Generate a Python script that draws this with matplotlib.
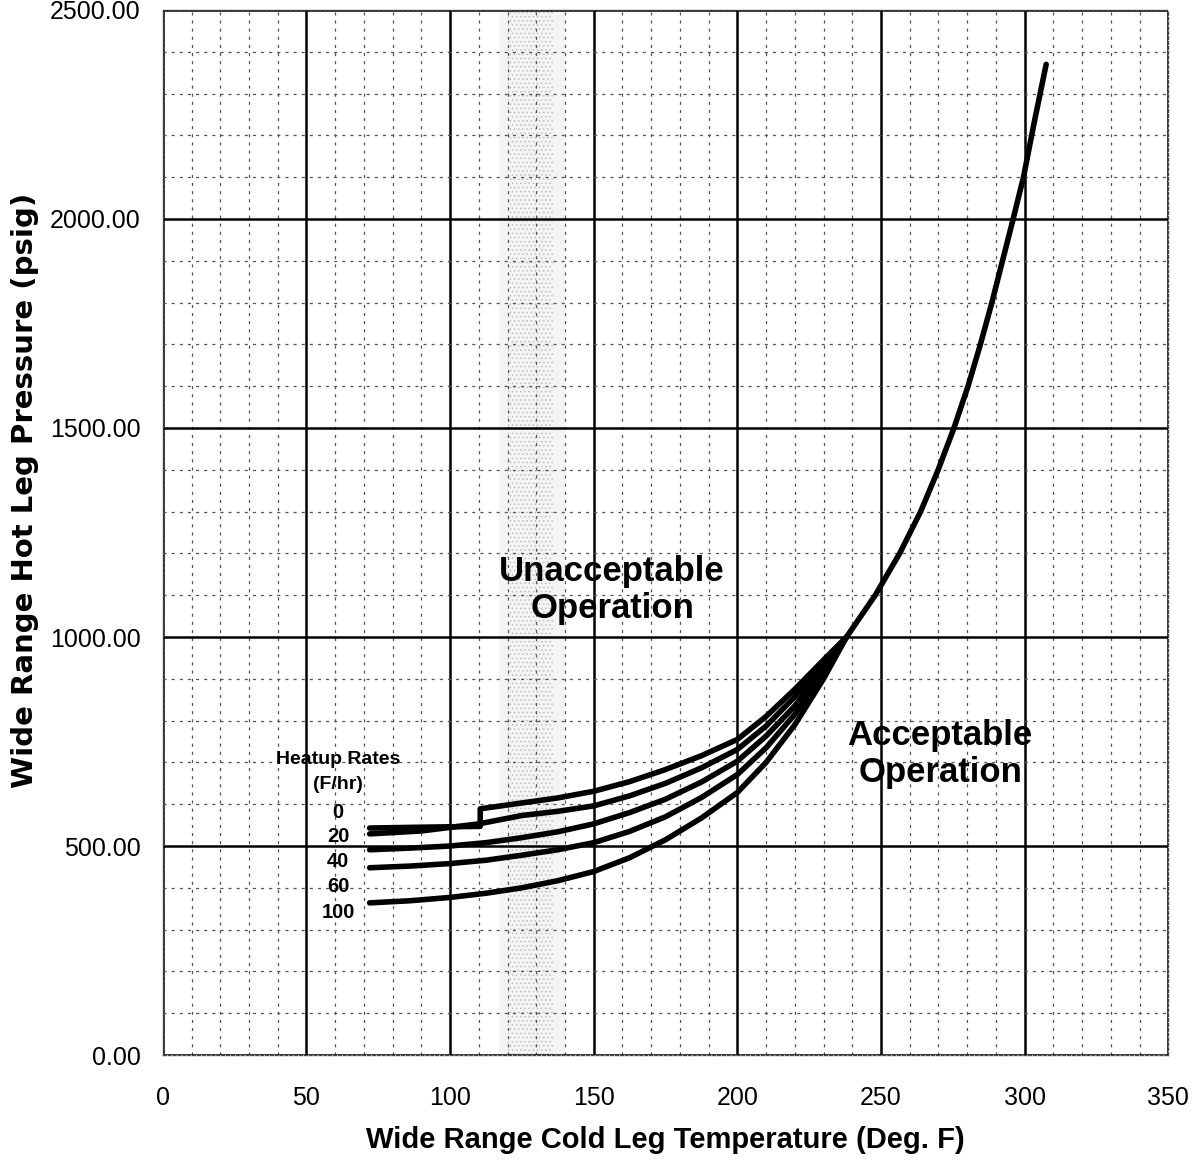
import matplotlib
matplotlib.use("Agg")
import matplotlib.pyplot as plt
import numpy as np

plt.rcParams["font.family"] = ["Liberation Sans", "DejaVu Sans"]
plt.rcParams["hatch.linewidth"] = 0.6

# Heatup-rate curves below the merge point (temperature F, pressure psig)
rate_labels = ["0", "20", "40", "60", "100"]
curve_temps = {
    "0": [72, 90, 110.5, 110.5, 125, 137.5, 150, 162.5, 175, 187.5, 200, 210, 220, 230],
    "20": [72, 90, 110, 125, 137.5, 150, 162.5, 175, 187.5, 200, 210, 220, 230],
    "40": [72, 86, 100, 112.5, 125, 137.5, 150, 162.5, 175, 187.5, 200, 210, 220, 230],
    "60": [72, 86, 100, 112.5, 125, 137.5, 150, 162.5, 175, 187.5, 200, 210, 220, 230],
    "100": [72, 86, 100, 112.5, 125, 137.5, 150, 162.5, 175, 187.5, 200, 210, 220, 230],
}
curve_press = {
    "0": [543, 545, 547, 589, 603, 615, 631, 654, 683, 716, 755, 810, 875, 945],
    "20": [529, 536, 553, 573, 583, 596, 620, 650, 687, 731, 787, 857, 937],
    "40": [491, 495, 500, 508, 520, 534, 553, 580, 612, 653, 703, 763, 835, 925],
    "60": [448, 452, 458, 466, 478, 491, 508, 535, 570, 616, 671, 735, 815, 915],
    "100": [364, 369, 377, 387, 400, 417, 439, 472, 515, 567, 628, 700, 790, 900],
}

# common upper limit curve (all rates merged)
upper_temps = [238, 248, 256.5, 263.8, 269.9, 275.4, 280.3, 284.6, 288.6,
               292.3, 296, 299.6, 303.3, 307.5]
upper_press = [1000, 1100, 1200, 1300, 1400, 1500, 1600, 1700, 1800,
               1900, 2000, 2100, 2230, 2370]

x_ticks = [0, 50, 100, 150, 200, 250, 300, 350]
y_ticks = [0, 500, 1000, 1500, 2000, 2500]
band_lo, band_hi = 117, 140

fig = plt.figure(figsize=(11.97, 11.60), dpi=100)
ax = fig.add_axes([0.136, 0.0905, 0.840, 0.9009])
ax.set_xlim(0, 350)
ax.set_ylim(0, 2500)

# stippled band
ax.axvspan(band_lo, band_hi, facecolor="#f4f4f4", edgecolor="none", zorder=0)
ax.axvspan(band_lo + 3, band_hi - 4, facecolor="none", edgecolor="#bdbdbd",
           hatch="....", lw=0, zorder=0)

# grid
ax.set_xticks(x_ticks)
ax.set_yticks(y_ticks)
ax.set_xticks(np.arange(0, 351, 10), minor=True)
ax.set_yticks(np.arange(0, 2501, 100), minor=True)
ax.grid(which="minor", color="#555555", lw=0.9, ls=(0, (2.5, 4)), zorder=1)
ax.grid(which="major", color="black", lw=1.8, ls="-", zorder=2)
ax.tick_params(which="both", length=0)
ax.tick_params(axis="x", pad=22, labelsize=18)
ax.tick_params(axis="y", pad=16, labelsize=18)
ax.set_yticklabels([f"{v:.2f}" for v in y_ticks])
for s in ax.spines.values():
    s.set_color("#444444")
    s.set_linewidth(1.0)
    s.set_linestyle((0, (2, 1.5)))

for r in rate_labels:
    if r == "0":
        xs, ys = curve_temps[r] + upper_temps, curve_press[r] + upper_press
    else:
        xs, ys = curve_temps[r] + upper_temps[:1], curve_press[r] + upper_press[:1]
    ax.plot(xs, ys, color="black", lw=4, solid_capstyle="round",
            solid_joinstyle="round", zorder=5)

txt = dict(fontweight="bold", ha="center", va="center", color="black", zorder=6)
ax.text(156.4, 1112, "Unacceptable\nOperation", fontsize=25, linespacing=1.15, **txt)
ax.text(270.6, 720, "Acceptable\nOperation", fontsize=25, linespacing=1.15, **txt)
ax.text(61, 706, "Heatup Rates", fontsize=14, **txt)
ax.text(61, 646, "(F/hr)", fontsize=14, **txt)
for lab, yv in zip(rate_labels, [581, 522, 462, 402, 342]):
    ax.text(61, yv, lab, fontsize=14.5, **txt)

fig.text(0.5555, 1 - 1140 / 1160, "Wide Range Cold Leg Temperature (Deg. F)",
         fontsize=21, fontweight="bold", ha="center", va="center")
fig.text(25 / 1197, 1 - 490 / 1160, "Wide Range Hot Leg Pressure (psig)",
         fontsize=21, fontweight="bold", ha="center", va="center", rotation=90,
         family=["DejaVu Sans"])

fig.savefig("out.png", dpi=100)
